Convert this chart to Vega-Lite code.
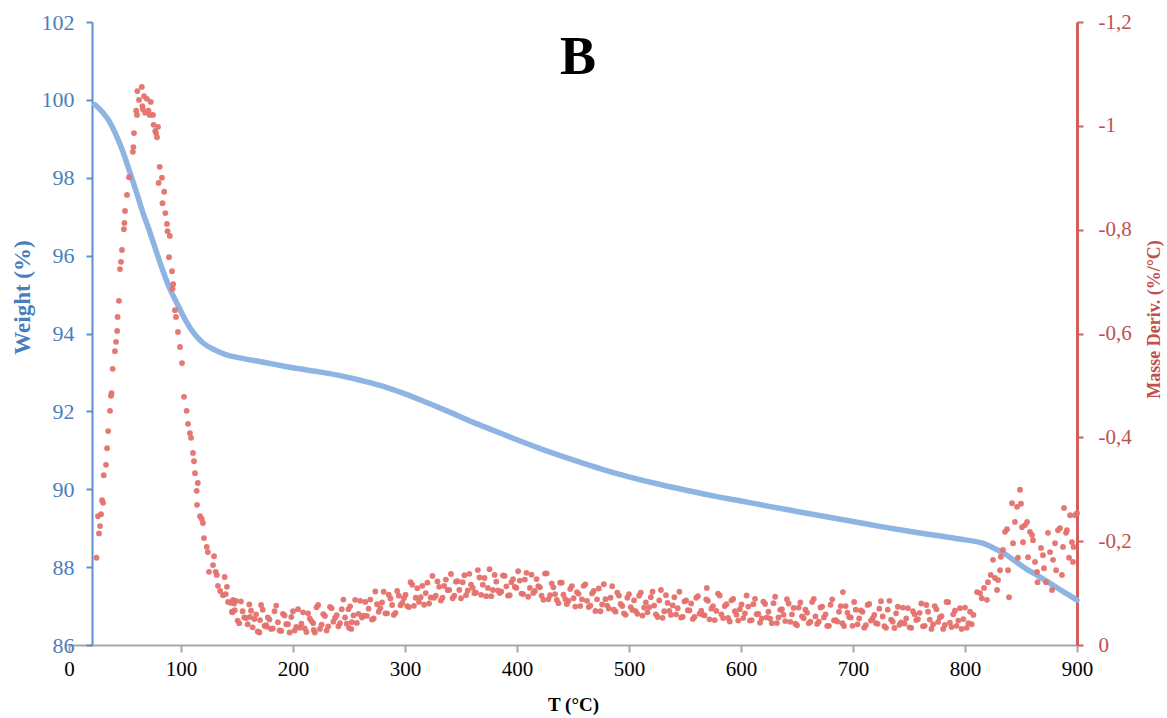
{
  "$schema": "https://vega.github.io/schema/vega-lite/v6.json",
  "width": 1008,
  "height": 623,
  "autosize": {"type": "none"},
  "padding": {"left": 69, "top": 22, "right": 90, "bottom": 73},
  "background": "white",
  "config": {
    "view": {"stroke": null},
    "font": "Liberation Serif",
    "axis": {"grid": false, "labelFont": "Liberation Serif", "titleFont": "Liberation Serif", "labelFlush": false, "labelOverlap": false}
  },
  "title": {
    "text": "B",
    "font": "Liberation Serif",
    "fontSize": 54,
    "fontWeight": "bold",
    "color": "#000000",
    "anchor": "middle",
    "dx": 5,
    "offset": -74
  },
  "datasets": {
    "weight": [
      {"T": 23, "W": 99.88}, {"T": 30, "W": 99.68}, {"T": 36, "W": 99.45}, {"T": 42, "W": 99.1},
      {"T": 48, "W": 98.68}, {"T": 54, "W": 98.17}, {"T": 60, "W": 97.65}, {"T": 66, "W": 97.1},
      {"T": 72, "W": 96.62}, {"T": 78, "W": 96.1}, {"T": 84, "W": 95.6}, {"T": 90, "W": 95.15},
      {"T": 96, "W": 94.8}, {"T": 102, "W": 94.45}, {"T": 108, "W": 94.15}, {"T": 114, "W": 93.92},
      {"T": 120, "W": 93.75}, {"T": 130, "W": 93.58}, {"T": 140, "W": 93.46}, {"T": 155, "W": 93.36},
      {"T": 170, "W": 93.28}, {"T": 185, "W": 93.2}, {"T": 200, "W": 93.12}, {"T": 220, "W": 93.03},
      {"T": 240, "W": 92.93}, {"T": 260, "W": 92.8}, {"T": 280, "W": 92.65}, {"T": 300, "W": 92.45},
      {"T": 320, "W": 92.22}, {"T": 340, "W": 91.98}, {"T": 360, "W": 91.73}, {"T": 380, "W": 91.5},
      {"T": 400, "W": 91.27}, {"T": 420, "W": 91.05}, {"T": 440, "W": 90.85}, {"T": 460, "W": 90.66},
      {"T": 480, "W": 90.48}, {"T": 500, "W": 90.32}, {"T": 525, "W": 90.14}, {"T": 550, "W": 89.98},
      {"T": 575, "W": 89.83}, {"T": 600, "W": 89.7}, {"T": 625, "W": 89.56}, {"T": 650, "W": 89.43},
      {"T": 675, "W": 89.3}, {"T": 700, "W": 89.17}, {"T": 725, "W": 89.04}, {"T": 750, "W": 88.92},
      {"T": 775, "W": 88.81}, {"T": 800, "W": 88.7}, {"T": 815, "W": 88.62}, {"T": 825, "W": 88.5},
      {"T": 835, "W": 88.35}, {"T": 845, "W": 88.15}, {"T": 855, "W": 87.95}, {"T": 865, "W": 87.78},
      {"T": 875, "W": 87.6}, {"T": 885, "W": 87.42}, {"T": 893, "W": 87.28}, {"T": 900, "W": 87.15}
    ],
    "deriv": [
      {"T": 24.5, "d": -0.168}, {"T": 25.9, "d": -0.248}, {"T": 26.8, "d": -0.215}, {"T": 27.7, "d": -0.229},
      {"T": 28.6, "d": -0.252}, {"T": 29.5, "d": -0.279}, {"T": 30.4, "d": -0.274}, {"T": 31, "d": -0.327},
      {"T": 33, "d": -0.347}, {"T": 34, "d": -0.379}, {"T": 35, "d": -0.412}, {"T": 36.6, "d": -0.451},
      {"T": 37.5, "d": -0.48}, {"T": 38, "d": -0.485}, {"T": 39, "d": -0.532}, {"T": 41, "d": -0.566},
      {"T": 42, "d": -0.584}, {"T": 43, "d": -0.605}, {"T": 43.4, "d": -0.632}, {"T": 44.6, "d": -0.663},
      {"T": 45.5, "d": -0.724}, {"T": 46.4, "d": -0.738}, {"T": 47.3, "d": -0.761}, {"T": 49, "d": -0.801},
      {"T": 49.5, "d": -0.813}, {"T": 50, "d": -0.836}, {"T": 51.8, "d": -0.867}, {"T": 53.6, "d": -0.901},
      {"T": 57, "d": -0.95}, {"T": 57.5, "d": -0.959}, {"T": 58, "d": -0.986}, {"T": 60.7, "d": -1.021},
      {"T": 60, "d": -1.029}, {"T": 61, "d": -1.067}, {"T": 62.5, "d": -1.05}, {"T": 65, "d": -1.075},
      {"T": 65.5, "d": -1.038}, {"T": 67, "d": -1.057}, {"T": 66, "d": -1.032}, {"T": 69.6, "d": -1.052},
      {"T": 68, "d": -1.025}, {"T": 71, "d": -1.029}, {"T": 73, "d": -1.046}, {"T": 72, "d": -1.021},
      {"T": 75, "d": -1.021}, {"T": 75.5, "d": -1.002}, {"T": 79.5, "d": -0.998}, {"T": 77, "d": -0.99},
      {"T": 77.7, "d": -0.986}, {"T": 78.6, "d": -0.978}, {"T": 81, "d": -0.921}, {"T": 83, "d": -0.9},
      {"T": 80, "d": -0.89}, {"T": 85, "d": -0.873}, {"T": 83.5, "d": -0.851}, {"T": 86, "d": -0.832},
      {"T": 87.5, "d": -0.811}, {"T": 88, "d": -0.797}, {"T": 90, "d": -0.788}, {"T": 89.3, "d": -0.747},
      {"T": 92, "d": -0.72}, {"T": 93, "d": -0.695}, {"T": 92.5, "d": -0.686}, {"T": 94.6, "d": -0.645},
      {"T": 95.5, "d": -0.632}, {"T": 97.3, "d": -0.603}, {"T": 99.1, "d": -0.574}, {"T": 100.9, "d": -0.543},
      {"T": 102.7, "d": -0.478}, {"T": 105, "d": -0.451}, {"T": 106.3, "d": -0.426}, {"T": 108, "d": -0.408},
      {"T": 109, "d": -0.399}, {"T": 110.7, "d": -0.37}, {"T": 111.6, "d": -0.354}, {"T": 112.5, "d": -0.331},
      {"T": 115, "d": -0.312}, {"T": 114, "d": -0.297}, {"T": 114.3, "d": -0.27}, {"T": 117, "d": -0.248},
      {"T": 118.5, "d": -0.243}, {"T": 119.6, "d": -0.235}, {"T": 120.5, "d": -0.206}, {"T": 123, "d": -0.189},
      {"T": 124, "d": -0.179}, {"T": 129.5, "d": -0.171}, {"T": 128.6, "d": -0.154}, {"T": 125, "d": -0.141},
      {"T": 131, "d": -0.141}, {"T": 132, "d": -0.135}, {"T": 133, "d": -0.114}, {"T": 135, "d": -0.104},
      {"T": 137.5, "d": -0.096}, {"T": 139, "d": -0.131}, {"T": 140, "d": -0.098}, {"T": 141, "d": -0.112},
      {"T": 142, "d": -0.083}, {"T": 144.6, "d": -0.081}, {"T": 145.5, "d": -0.064}, {"T": 146.4, "d": -0.087},
      {"T": 148, "d": -0.067}, {"T": 161.6, "d": -0.054}, {"T": 170.5, "d": -0.048}, {"T": 176.8, "d": -0.035},
      {"T": 146, "d": -0.063}, {"T": 149, "d": -0.085}, {"T": 152, "d": -0.042}, {"T": 155, "d": -0.065},
      {"T": 158, "d": -0.052}, {"T": 161, "d": -0.078}, {"T": 164, "d": -0.034}, {"T": 167, "d": -0.059},
      {"T": 170, "d": -0.024}, {"T": 173, "d": -0.068}, {"T": 176, "d": -0.038}, {"T": 179, "d": -0.049},
      {"T": 182, "d": -0.032}, {"T": 185, "d": -0.076}, {"T": 188, "d": -0.028}, {"T": 191, "d": -0.06},
      {"T": 194, "d": -0.04}, {"T": 197, "d": -0.024}, {"T": 200, "d": -0.065}, {"T": 203, "d": -0.035},
      {"T": 206, "d": -0.033}, {"T": 209, "d": -0.063}, {"T": 212, "d": -0.025}, {"T": 215, "d": -0.051},
      {"T": 218, "d": -0.042}, {"T": 221, "d": -0.0725}, {"T": 224, "d": -0.031}, {"T": 227, "d": -0.0595},
      {"T": 230, "d": -0.028}, {"T": 233, "d": -0.0735}, {"T": 236, "d": -0.045}, {"T": 239, "d": -0.0575},
      {"T": 242, "d": -0.042}, {"T": 245, "d": -0.0875}, {"T": 248, "d": -0.041}, {"T": 251, "d": -0.0745},
      {"T": 254, "d": -0.057}, {"T": 257, "d": -0.0425}, {"T": 260, "d": -0.085}, {"T": 263, "d": -0.0565},
      {"T": 266, "d": -0.056}, {"T": 269, "d": -0.0875}, {"T": 272, "d": -0.051}, {"T": 275, "d": -0.0785},
      {"T": 278, "d": -0.071}, {"T": 281, "d": -0.1025}, {"T": 284, "d": -0.061}, {"T": 287, "d": -0.0895},
      {"T": 290, "d": -0.058}, {"T": 293, "d": -0.104}, {"T": 296, "d": -0.0765}, {"T": 299, "d": -0.09},
      {"T": 302, "d": -0.075}, {"T": 305, "d": -0.121}, {"T": 308, "d": -0.0755}, {"T": 311, "d": -0.1095},
      {"T": 314, "d": -0.092}, {"T": 317, "d": -0.0775}, {"T": 320, "d": -0.12}, {"T": 323, "d": -0.0915},
      {"T": 326, "d": -0.091}, {"T": 329, "d": -0.1225}, {"T": 332, "d": -0.0857}, {"T": 335, "d": -0.1138},
      {"T": 338, "d": -0.1058}, {"T": 341, "d": -0.1368}, {"T": 344, "d": -0.0949}, {"T": 347, "d": -0.1229},
      {"T": 350, "d": -0.09}, {"T": 353, "d": -0.1345}, {"T": 356, "d": -0.105}, {"T": 359, "d": -0.1164},
      {"T": 362, "d": -0.0998}, {"T": 365, "d": -0.1443}, {"T": 368, "d": -0.0967}, {"T": 371, "d": -0.129},
      {"T": 374, "d": -0.11}, {"T": 377, "d": -0.094}, {"T": 380, "d": -0.135}, {"T": 383, "d": -0.105},
      {"T": 386, "d": -0.103}, {"T": 389, "d": -0.133}, {"T": 392, "d": -0.095}, {"T": 395, "d": -0.121},
      {"T": 398, "d": -0.112}, {"T": 401, "d": -0.142}, {"T": 404, "d": -0.099}, {"T": 407, "d": -0.126},
      {"T": 410, "d": -0.093}, {"T": 413, "d": -0.1355}, {"T": 416, "d": -0.104}, {"T": 419, "d": -0.1135},
      {"T": 422, "d": -0.095}, {"T": 425, "d": -0.1375}, {"T": 428, "d": -0.088}, {"T": 431, "d": -0.1185},
      {"T": 434, "d": -0.098}, {"T": 437, "d": -0.0805}, {"T": 440, "d": -0.12}, {"T": 443, "d": -0.0885},
      {"T": 446, "d": -0.085}, {"T": 449, "d": -0.1135}, {"T": 452, "d": -0.074}, {"T": 455, "d": -0.0985},
      {"T": 458, "d": -0.088}, {"T": 461, "d": -0.1168}, {"T": 464, "d": -0.073}, {"T": 467, "d": -0.0993},
      {"T": 470, "d": -0.0655}, {"T": 473, "d": -0.1088}, {"T": 476, "d": -0.078}, {"T": 479, "d": -0.0883},
      {"T": 482, "d": -0.0703}, {"T": 485, "d": -0.1133}, {"T": 488, "d": -0.0642}, {"T": 491, "d": -0.0952},
      {"T": 494, "d": -0.0751}, {"T": 497, "d": -0.0581}, {"T": 500, "d": -0.098}, {"T": 503, "d": -0.0676},
      {"T": 506, "d": -0.0653}, {"T": 509, "d": -0.0949}, {"T": 512, "d": -0.0566}, {"T": 515, "d": -0.0822},
      {"T": 518, "d": -0.0728}, {"T": 521, "d": -0.1025}, {"T": 524, "d": -0.0591}, {"T": 527, "d": -0.0858},
      {"T": 530, "d": -0.0524}, {"T": 533, "d": -0.096}, {"T": 536, "d": -0.0657}, {"T": 539, "d": -0.0763},
      {"T": 542, "d": -0.059}, {"T": 545, "d": -0.1026}, {"T": 548, "d": -0.0542}, {"T": 551, "d": -0.0859},
      {"T": 554, "d": -0.0665}, {"T": 557, "d": -0.0502}, {"T": 560, "d": -0.0908}, {"T": 563, "d": -0.0604},
      {"T": 566, "d": -0.0581}, {"T": 569, "d": -0.0877}, {"T": 572, "d": -0.0494}, {"T": 575, "d": -0.075},
      {"T": 578, "d": -0.0656}, {"T": 581, "d": -0.0953}, {"T": 584, "d": -0.0519}, {"T": 587, "d": -0.0786},
      {"T": 590, "d": -0.0452}, {"T": 593, "d": -0.0888}, {"T": 596, "d": -0.0585}, {"T": 599, "d": -0.0691},
      {"T": 602, "d": -0.0518}, {"T": 605, "d": -0.0954}, {"T": 608, "d": -0.047}, {"T": 611, "d": -0.0787},
      {"T": 614, "d": -0.0593}, {"T": 617, "d": -0.043}, {"T": 620, "d": -0.0836}, {"T": 623, "d": -0.0532},
      {"T": 626, "d": -0.0509}, {"T": 629, "d": -0.0805}, {"T": 632, "d": -0.0422}, {"T": 635, "d": -0.0678},
      {"T": 638, "d": -0.0584}, {"T": 641, "d": -0.0881}, {"T": 644, "d": -0.0447}, {"T": 647, "d": -0.0714},
      {"T": 650, "d": -0.038}, {"T": 653, "d": -0.0818}, {"T": 656, "d": -0.0515}, {"T": 659, "d": -0.0623},
      {"T": 662, "d": -0.045}, {"T": 665, "d": -0.0888}, {"T": 668, "d": -0.0406}, {"T": 671, "d": -0.0723},
      {"T": 674, "d": -0.0531}, {"T": 677, "d": -0.0368}, {"T": 680, "d": -0.0776}, {"T": 683, "d": -0.0474},
      {"T": 686, "d": -0.0451}, {"T": 689, "d": -0.0749}, {"T": 692, "d": -0.0366}, {"T": 695, "d": -0.0624},
      {"T": 698, "d": -0.0532}, {"T": 701, "d": -0.0829}, {"T": 704, "d": -0.0398}, {"T": 707, "d": -0.0666},
      {"T": 710, "d": -0.0334}, {"T": 713, "d": -0.0772}, {"T": 716, "d": -0.047}, {"T": 719, "d": -0.0579},
      {"T": 722, "d": -0.0407}, {"T": 725, "d": -0.0845}, {"T": 728, "d": -0.0363}, {"T": 731, "d": -0.0681},
      {"T": 734, "d": -0.049}, {"T": 737, "d": -0.0328}, {"T": 740, "d": -0.0736}, {"T": 743, "d": -0.0434},
      {"T": 746, "d": -0.0412}, {"T": 749, "d": -0.0711}, {"T": 752, "d": -0.033}, {"T": 755, "d": -0.059},
      {"T": 758, "d": -0.05}, {"T": 761, "d": -0.08}, {"T": 764, "d": -0.037}, {"T": 767, "d": -0.064},
      {"T": 770, "d": -0.031}, {"T": 773, "d": -0.075}, {"T": 776, "d": -0.0445}, {"T": 779, "d": -0.0555},
      {"T": 782, "d": -0.0385}, {"T": 785, "d": -0.0825}, {"T": 788, "d": -0.0345}, {"T": 791, "d": -0.0662},
      {"T": 794, "d": -0.047}, {"T": 797, "d": -0.031}, {"T": 800, "d": -0.072}, {"T": 803, "d": -0.042},
      {"T": 806, "d": -0.04}, {"T": 569.5, "d": -0.11}, {"T": 691, "d": -0.102}, {"T": 218.5, "d": -0.029},
      {"T": 252, "d": -0.031}, {"T": 250, "d": -0.033},
      {"T": 147.5, "d": -0.08}, {"T": 150.5, "d": -0.047}, {"T": 153.5, "d": -0.084}, {"T": 156.5, "d": -0.053},
      {"T": 159.5, "d": -0.04}, {"T": 162.5, "d": -0.066}, {"T": 165.5, "d": -0.05}, {"T": 168.5, "d": -0.026},
      {"T": 171.5, "d": -0.077}, {"T": 174.5, "d": -0.037}, {"T": 177.5, "d": -0.053}, {"T": 180.5, "d": -0.031},
      {"T": 183.5, "d": -0.065}, {"T": 186.5, "d": -0.044}, {"T": 189.5, "d": -0.027}, {"T": 192.5, "d": -0.057},
      {"T": 195.5, "d": -0.04}, {"T": 198.5, "d": -0.054}, {"T": 201.5, "d": -0.028}, {"T": 204.5, "d": -0.069},
      {"T": 207.5, "d": -0.041}, {"T": 210.5, "d": -0.032}, {"T": 213.5, "d": -0.061}, {"T": 216.5, "d": -0.046},
      {"T": 219.5, "d": -0.024}, {"T": 222.5, "d": -0.077}, {"T": 225.5, "d": -0.039}, {"T": 228.5, "d": -0.056},
      {"T": 231.5, "d": -0.036}, {"T": 234.5, "d": -0.071}, {"T": 237.5, "d": -0.052}, {"T": 240.5, "d": -0.036},
      {"T": 243.5, "d": -0.069}, {"T": 246.5, "d": -0.053}, {"T": 249.5, "d": -0.069}, {"T": 252.5, "d": -0.044},
      {"T": 255.5, "d": -0.087}, {"T": 258.5, "d": -0.06}, {"T": 261.5, "d": -0.053}, {"T": 264.5, "d": -0.083},
      {"T": 267.5, "d": -0.07}, {"T": 270.5, "d": -0.049}, {"T": 273.5, "d": -0.103}, {"T": 276.5, "d": -0.064},
      {"T": 279.5, "d": -0.082}, {"T": 282.5, "d": -0.061}, {"T": 285.5, "d": -0.097}, {"T": 288.5, "d": -0.077},
      {"T": 291.5, "d": -0.062}, {"T": 294.5, "d": -0.095}, {"T": 297.5, "d": -0.081}, {"T": 300.5, "d": -0.097},
      {"T": 303.5, "d": -0.073}, {"T": 306.5, "d": -0.116}, {"T": 309.5, "d": -0.091}, {"T": 312.5, "d": -0.083},
      {"T": 315.5, "d": -0.114}, {"T": 318.5, "d": -0.1}, {"T": 321.5, "d": -0.08}, {"T": 324.5, "d": -0.133},
      {"T": 327.5, "d": -0.095}, {"T": 330.5, "d": -0.112}, {"T": 333.5, "d": -0.091}, {"T": 336.5, "d": -0.126},
      {"T": 339.5, "d": -0.106}, {"T": 342.5, "d": -0.09}, {"T": 345.5, "d": -0.122}, {"T": 348.5, "d": -0.106},
      {"T": 351.5, "d": -0.121}, {"T": 354.5, "d": -0.096}, {"T": 357.5, "d": -0.137}, {"T": 360.5, "d": -0.11},
      {"T": 363.5, "d": -0.101}, {"T": 366.5, "d": -0.13}, {"T": 369.5, "d": -0.116}, {"T": 372.5, "d": -0.094},
      {"T": 375.5, "d": -0.146}, {"T": 378.5, "d": -0.106}, {"T": 381.5, "d": -0.122}, {"T": 384.5, "d": -0.1},
      {"T": 387.5, "d": -0.134}, {"T": 390.5, "d": -0.113}, {"T": 393.5, "d": -0.096}, {"T": 396.5, "d": -0.127},
      {"T": 399.5, "d": -0.11}, {"T": 402.5, "d": -0.124}, {"T": 405.5, "d": -0.098}, {"T": 408.5, "d": -0.139},
      {"T": 411.5, "d": -0.11}, {"T": 414.5, "d": -0.1}, {"T": 417.5, "d": -0.127}, {"T": 420.5, "d": -0.111},
      {"T": 423.5, "d": -0.087}, {"T": 426.5, "d": -0.138}, {"T": 429.5, "d": -0.096}, {"T": 432.5, "d": -0.111},
      {"T": 435.5, "d": -0.087}, {"T": 438.5, "d": -0.12}, {"T": 441.5, "d": -0.097}, {"T": 444.5, "d": -0.079},
      {"T": 447.5, "d": -0.108}, {"T": 450.5, "d": -0.09}, {"T": 453.5, "d": -0.102}, {"T": 456.5, "d": -0.075},
      {"T": 459.5, "d": -0.114}, {"T": 462.5, "d": -0.085}, {"T": 465.5, "d": -0.076}, {"T": 468.5, "d": -0.104},
      {"T": 471.5, "d": -0.088}, {"T": 474.5, "d": -0.065}, {"T": 477.5, "d": -0.117}, {"T": 480.5, "d": -0.076},
      {"T": 483.5, "d": -0.091}, {"T": 486.5, "d": -0.068}, {"T": 489.5, "d": -0.101}, {"T": 492.5, "d": -0.079},
      {"T": 495.5, "d": -0.061}, {"T": 498.5, "d": -0.091}, {"T": 501.5, "d": -0.073}, {"T": 504.5, "d": -0.086},
      {"T": 507.5, "d": -0.06}, {"T": 510.5, "d": -0.101}, {"T": 513.5, "d": -0.072}, {"T": 516.5, "d": -0.063},
      {"T": 519.5, "d": -0.092}, {"T": 522.5, "d": -0.076}, {"T": 525.5, "d": -0.054}, {"T": 528.5, "d": -0.106},
      {"T": 531.5, "d": -0.065}, {"T": 534.5, "d": -0.081}, {"T": 537.5, "d": -0.058}, {"T": 540.5, "d": -0.092},
      {"T": 543.5, "d": -0.071}, {"T": 546.5, "d": -0.053}, {"T": 549.5, "d": -0.084}, {"T": 552.5, "d": -0.067},
      {"T": 555.5, "d": -0.08}, {"T": 558.5, "d": -0.054}, {"T": 561.5, "d": -0.094}, {"T": 564.5, "d": -0.066},
      {"T": 567.5, "d": -0.057}, {"T": 570.5, "d": -0.085}, {"T": 573.5, "d": -0.07}, {"T": 576.5, "d": -0.048},
      {"T": 579.5, "d": -0.099}, {"T": 582.5, "d": -0.059}, {"T": 585.5, "d": -0.075}, {"T": 588.5, "d": -0.052},
      {"T": 591.5, "d": -0.086}, {"T": 594.5, "d": -0.065}, {"T": 597.5, "d": -0.047}, {"T": 600.5, "d": -0.078},
      {"T": 603.5, "d": -0.061}, {"T": 606.5, "d": -0.074}, {"T": 609.5, "d": -0.048}, {"T": 612.5, "d": -0.089},
      {"T": 615.5, "d": -0.06}, {"T": 618.5, "d": -0.051}, {"T": 621.5, "d": -0.079}, {"T": 624.5, "d": -0.064},
      {"T": 627.5, "d": -0.042}, {"T": 630.5, "d": -0.093}, {"T": 633.5, "d": -0.053}, {"T": 636.5, "d": -0.069},
      {"T": 639.5, "d": -0.046}, {"T": 642.5, "d": -0.08}, {"T": 645.5, "d": -0.059}, {"T": 648.5, "d": -0.041},
      {"T": 651.5, "d": -0.072}, {"T": 654.5, "d": -0.055}, {"T": 657.5, "d": -0.068}, {"T": 660.5, "d": -0.042},
      {"T": 663.5, "d": -0.083}, {"T": 666.5, "d": -0.055}, {"T": 669.5, "d": -0.045}, {"T": 672.5, "d": -0.074},
      {"T": 675.5, "d": -0.059}, {"T": 678.5, "d": -0.037}, {"T": 681.5, "d": -0.088}, {"T": 684.5, "d": -0.048},
      {"T": 687.5, "d": -0.064}, {"T": 690.5, "d": -0.042}, {"T": 693.5, "d": -0.075}, {"T": 696.5, "d": -0.054},
      {"T": 699.5, "d": -0.037}, {"T": 702.5, "d": -0.068}, {"T": 705.5, "d": -0.051}, {"T": 708.5, "d": -0.064},
      {"T": 711.5, "d": -0.038}, {"T": 714.5, "d": -0.079}, {"T": 717.5, "d": -0.051}, {"T": 720.5, "d": -0.042},
      {"T": 723.5, "d": -0.07}, {"T": 726.5, "d": -0.055}, {"T": 729.5, "d": -0.033}, {"T": 732.5, "d": -0.085},
      {"T": 735.5, "d": -0.045}, {"T": 738.5, "d": -0.061}, {"T": 741.5, "d": -0.039}, {"T": 744.5, "d": -0.072},
      {"T": 747.5, "d": -0.051}, {"T": 750.5, "d": -0.034}, {"T": 753.5, "d": -0.065}, {"T": 756.5, "d": -0.048},
      {"T": 759.5, "d": -0.062}, {"T": 762.5, "d": -0.036}, {"T": 765.5, "d": -0.077}, {"T": 768.5, "d": -0.049},
      {"T": 771.5, "d": -0.04}, {"T": 774.5, "d": -0.069}, {"T": 777.5, "d": -0.053}, {"T": 780.5, "d": -0.031},
      {"T": 783.5, "d": -0.083}, {"T": 786.5, "d": -0.043}, {"T": 789.5, "d": -0.059}, {"T": 792.5, "d": -0.037},
      {"T": 795.5, "d": -0.071}, {"T": 798.5, "d": -0.05}, {"T": 801.5, "d": -0.033}, {"T": 804.5, "d": -0.064},
      {"T": 807.5, "d": -0.058}, {"T": 815, "d": -0.09}, {"T": 817, "d": -0.11}, {"T": 823, "d": -0.135},
      {"T": 832, "d": -0.17},
      {"T": 810.7, "d": -0.102}, {"T": 813.4, "d": -0.1}, {"T": 819.6, "d": -0.087}, {"T": 820.5, "d": -0.121},
      {"T": 825, "d": -0.164}, {"T": 826.8, "d": -0.129}, {"T": 828.6, "d": -0.106}, {"T": 829.5, "d": -0.125},
      {"T": 831.3, "d": -0.144}, {"T": 833.9, "d": -0.183}, {"T": 835.7, "d": -0.218}, {"T": 837.5, "d": -0.223},
      {"T": 838.4, "d": -0.144}, {"T": 839.3, "d": -0.092}, {"T": 842, "d": -0.273}, {"T": 842.9, "d": -0.196},
      {"T": 844.6, "d": -0.237}, {"T": 846.4, "d": -0.266}, {"T": 847.3, "d": -0.168}, {"T": 849.1, "d": -0.299},
      {"T": 850, "d": -0.272}, {"T": 850.9, "d": -0.227}, {"T": 851.8, "d": -0.198}, {"T": 853.6, "d": -0.231},
      {"T": 855.4, "d": -0.237}, {"T": 856.3, "d": -0.169}, {"T": 858, "d": -0.218}, {"T": 859.8, "d": -0.212},
      {"T": 860.7, "d": -0.202}, {"T": 862.5, "d": -0.16}, {"T": 864.3, "d": -0.141}, {"T": 864.8, "d": -0.121},
      {"T": 867.9, "d": -0.187}, {"T": 869.6, "d": -0.173}, {"T": 870.5, "d": -0.148}, {"T": 872.3, "d": -0.121},
      {"T": 874.1, "d": -0.216}, {"T": 875.9, "d": -0.179}, {"T": 877.7, "d": -0.106}, {"T": 878.6, "d": -0.164},
      {"T": 880.4, "d": -0.196}, {"T": 881.3, "d": -0.144}, {"T": 883, "d": -0.221}, {"T": 884.8, "d": -0.225},
      {"T": 886.6, "d": -0.135}, {"T": 887.5, "d": -0.189}, {"T": 888.4, "d": -0.264}, {"T": 890.2, "d": -0.216},
      {"T": 891, "d": -0.221}, {"T": 892.9, "d": -0.168}, {"T": 893.8, "d": -0.25}, {"T": 895.5, "d": -0.198},
      {"T": 896.4, "d": -0.16}, {"T": 896.9, "d": -0.189}, {"T": 898.2, "d": -0.25}, {"T": 900, "d": -0.254}
    ]
  },
  "encoding": {
    "x": {
      "field": "T",
      "type": "quantitative",
      "scale": {"domain": [0, 900], "nice": false, "zero": false},
      "axis": {
        "title": "T (°C)",
        "values": [0, 100, 200, 300, 400, 500, 600, 700, 800, 900],
        "format": "d",
        "domainColor": "#a6a6a6",
        "domainWidth": 2,
        "tickColor": "#a6a6a6",
        "tickWidth": 2,
        "tickSize": 7,
        "labelFontSize": 21,
        "labelColor": "#000000",
        "labelPadding": 6,
        "titleFontSize": 19,
        "titleFontWeight": "bold",
        "titleColor": "#000000",
        "titlePadding": 16
      }
    }
  },
  "layer": [
    {
      "data": {"name": "weight"},
      "mark": {"type": "line", "color": "#8db4e3", "strokeWidth": 5.5, "strokeCap": "round", "interpolate": "monotone"},
      "encoding": {
        "y": {
          "field": "W",
          "type": "quantitative",
          "scale": {"domain": [86, 102], "nice": false, "zero": false},
          "axis": {
            "orient": "left",
            "offset": -23,
            "title": "Weight (%)",
            "titleY": 275,
            "values": [86, 88, 90, 92, 94, 96, 98, 100, 102],
            "format": "d",
            "domainColor": "#5b8fd0",
            "domainWidth": 2,
            "tickColor": "#5b8fd0",
            "tickWidth": 2,
            "tickSize": 6,
            "labelFontSize": 22,
            "labelColor": "#4a7ebb",
            "labelPadding": 12,
            "titleFontSize": 23,
            "titleFontWeight": "bold",
            "titleColor": "#4a7ebb",
            "titlePadding": 7
          }
        }
      }
    },
    {
      "data": {"name": "deriv"},
      "mark": {"type": "circle", "color": "#e5716d", "opacity": 0.95, "size": 34},
      "encoding": {
        "y": {
          "field": "d",
          "type": "quantitative",
          "scale": {"domain": [-1.2, 0], "reverse": true, "nice": false, "zero": false},
          "axis": {
            "orient": "right",
            "title": "Masse Deriv. (%/°C)",
            "titleAngle": 270,
            "titleY": 297,
            "values": [0, -0.2, -0.4, -0.6, -0.8, -1, -1.2],
            "labelExpr": "replace(toString(datum.value), '.', ',')",
            "domainColor": "#d35f5c",
            "domainWidth": 3,
            "tickColor": "#d35f5c",
            "tickWidth": 2,
            "tickSize": 6,
            "labelFontSize": 21,
            "labelColor": "#c0504d",
            "labelPadding": 15,
            "titleFontSize": 18,
            "titleFontWeight": "bold",
            "titleColor": "#c0504d",
            "titlePadding": 32
          }
        }
      }
    }
  ],
  "resolve": {"scale": {"y": "independent"}}
}
